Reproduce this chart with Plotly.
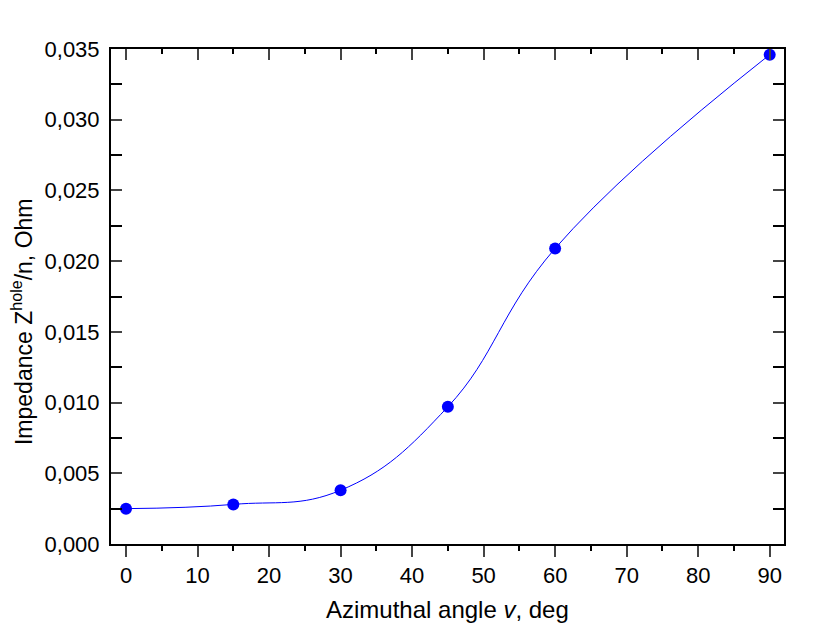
import plotly.graph_objects as go

angle = [0, 15, 30, 45, 60, 90]
impedance = [0.0025, 0.0028, 0.0038, 0.0097, 0.0209, 0.0346]
x_ticks = [0, 10, 20, 30, 40, 50, 60, 70, 80, 90]
y_ticks = [0.000, 0.005, 0.010, 0.015, 0.020, 0.025, 0.030, 0.035]
x_title = "Azimuthal angle <i>v</i>, deg"
y_title = "Impedance Z<sup>hole</sup>/n, Ohm"

font = "Liberation Sans, Arial, sans-serif"
fig = go.Figure()
fig.add_trace(go.Scatter(
    x=angle, y=impedance, mode="lines+markers",
    line=dict(color="#0000FF", width=1, shape="spline", smoothing=1.2),
    marker=dict(color="#0000FF", size=12),
    showlegend=False, cliponaxis=False,
))
# invisible trace for top axis
fig.add_trace(go.Scatter(x=angle, y=impedance, xaxis="x2", mode="markers",
                         marker=dict(opacity=0), showlegend=False, hoverinfo="skip"))

fig.update_layout(
    width=830, height=625,
    margin=dict(l=111, r=46, t=49, b=81),
    plot_bgcolor="white", paper_bgcolor="white",
    separators=", ",
    font=dict(family=font, size=22, color="black"),
    xaxis=dict(
        range=[-2.1, 92], tickvals=x_ticks, ticks="outside", ticklen=11, tickwidth=2,
        showline=True, linewidth=2, linecolor="black", showgrid=False, zeroline=False,
        minor=dict(dtick=5, tick0=0, ticks="outside", ticklen=5, tickwidth=2, tickcolor="black"),
        tickfont=dict(size=22), automargin=False,
    ),
    xaxis2=dict(
        overlaying="x", matches="x", side="top", range=[-2.1, 92], tickvals=x_ticks,
        ticks="inside", ticklen=11, tickwidth=2, showticklabels=False,
        showline=True, linewidth=2, linecolor="black", showgrid=False, zeroline=False,
        minor=dict(dtick=5, tick0=0, ticks="inside", ticklen=5, tickwidth=2, tickcolor="black"),
        automargin=False,
    ),
    yaxis=dict(
        range=[0, 0.035], tickvals=y_ticks, tickformat=".3f", ticks="inside", ticklen=11, tickwidth=2,
        showline=True, linewidth=2, linecolor="black", mirror="allticks", showgrid=False, zeroline=False,
        minor=dict(dtick=0.0025, tick0=0, ticks="inside", ticklen=5, tickwidth=2, tickcolor="black"),
        tickfont=dict(size=22), automargin=False, ticklabelstandoff=5,
    ),
    annotations=[
        dict(text=x_title, xref="paper", yref="paper", x=0.5, y=-0.1333,
             xanchor="center", yanchor="middle", showarrow=False, font=dict(size=24)),
        dict(text=y_title, xref="paper", yref="paper", x=-0.1322, y=0.4485, textangle=-90,
             xanchor="center", yanchor="middle", showarrow=False, font=dict(size=23)),
    ],
)
fig.write_html("out.html", config={"displayModeBar": False},
               post_script="document.body.style.margin='0px';")
